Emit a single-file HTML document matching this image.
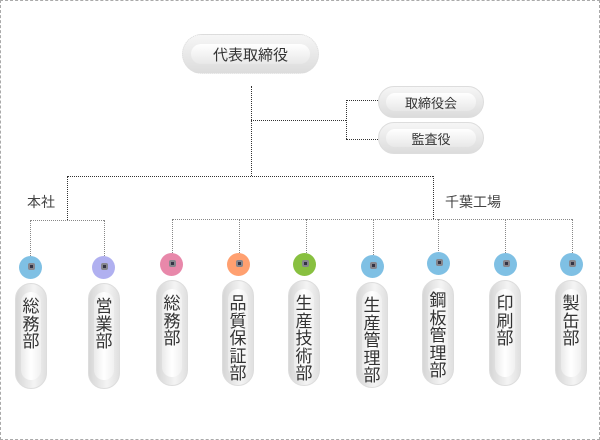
<!DOCTYPE html>
<html><head><meta charset="utf-8"><style>
body{margin:0;width:600px;height:440px;position:relative;background:#fff;font-family:"Liberation Sans","Noto Sans CJK JP",sans-serif;color:#444;overflow:hidden}
.frame{position:absolute;left:0;top:0;width:598px;height:438px;border:1px dashed #aaa}
.h{position:absolute;border-top:1px dotted #333;height:0}
.v{position:absolute;border-left:1px dotted #333;width:0}
.hg{position:absolute;border-top:1px dotted #888;height:0}
.vg{position:absolute;border-left:1px dotted #888;width:0}
.pill{position:absolute;box-sizing:border-box;border:1px solid #ddd;background:linear-gradient(to bottom,#f6f6f6,#dcdcdc);}
.pill .in{position:absolute;background:linear-gradient(to bottom,#fff,#e8e8e8);display:flex;align-items:center;justify-content:center}
.vp{position:absolute;box-sizing:border-box;width:32px;height:106px;border:1px solid #ddd;border-radius:16px;background:linear-gradient(to right,#d6d6d6,#f4f4f4 60%,#e0e0e0)}
.vp .in{position:absolute;left:5px;right:5px;top:8px;bottom:8px;border-radius:11px;background:linear-gradient(to right,#eaeaea,#fff 50%,#f0f0f0)}
.vp .t{position:absolute;left:0;right:0;top:14px;text-align:center;font-size:17px;line-height:17.5px;color:#333}
.c{position:absolute;width:23px;height:23px;border-radius:50%}
.c:after{content:"";position:absolute;left:9px;top:7px;width:3px;height:3px;background:#334;border:2px solid rgba(190,190,190,.6);border-radius:2px}
.lbl{position:absolute;font-size:14px;color:#444}
</style></head><body>
<div class="frame"></div>
<div class="pill" style="left:182px;top:34px;width:137px;height:40px;border-radius:20px;border-style:dotted"><div class="in" style="left:8px;right:8px;top:9px;bottom:9px;border-radius:11px;font-size:15px;color:#333">代表取締役</div></div>
<div class="pill" style="left:378px;top:86px;width:106px;height:32px;border-radius:16px"><div class="in" style="left:7px;right:7px;top:6px;bottom:6px;border-radius:10px;font-size:13px;color:#333">取締役会</div></div>
<div class="pill" style="left:378px;top:122px;width:106px;height:32px;border-radius:16px"><div class="in" style="left:7px;right:7px;top:6px;bottom:6px;border-radius:10px;font-size:13px;color:#333">監査役</div></div>
<div class="v" style="left:251px;top:86px;height:90px"></div>
<div class="h" style="left:251px;top:120px;width:95px"></div>
<div class="v" style="left:346px;top:100px;height:39px"></div>
<div class="h" style="left:346px;top:100px;width:32px"></div>
<div class="h" style="left:346px;top:139px;width:32px"></div>
<div class="h" style="left:67px;top:176px;width:366px"></div>
<div class="v" style="left:67px;top:176px;height:44px"></div>
<div class="v" style="left:433px;top:176px;height:43px"></div>
<div class="hg" style="left:30px;top:220px;width:74px"></div>
<div class="hg" style="left:172px;top:219px;width:400px"></div>
<div class="vg" style="left:30px;top:220px;height:44px"></div>
<div class="vg" style="left:104px;top:220px;height:44px"></div>
<div class="vg" style="left:172px;top:219px;height:42px"></div>
<div class="vg" style="left:239px;top:219px;height:42px"></div>
<div class="vg" style="left:306px;top:219px;height:42px"></div>
<div class="vg" style="left:373px;top:219px;height:44px"></div>
<div class="vg" style="left:438px;top:219px;height:42px"></div>
<div class="vg" style="left:505px;top:219px;height:42px"></div>
<div class="vg" style="left:572px;top:219px;height:42px"></div>
<div class="lbl" style="left:27px;top:192px">本社</div>
<div class="lbl" style="left:445px;top:192px">千葉工場</div>
<div class="c" style="left:19px;top:256px;background:#7fc0e4"></div>
<div class="c" style="left:92px;top:256px;background:#b0b0f0"></div>
<div class="c" style="left:160px;top:253px;background:#e888aa"></div>
<div class="c" style="left:227px;top:253px;background:#ffa070"></div>
<div class="c" style="left:293px;top:253px;background:#88c040"></div>
<div class="c" style="left:361px;top:255px;background:#7fc0e4"></div>
<div class="c" style="left:427px;top:252px;background:#7fc0e4"></div>
<div class="c" style="left:494px;top:253px;background:#7fc0e4"></div>
<div class="c" style="left:560px;top:253px;background:#7fc0e4"></div>
<div class="vp" style="left:15px;top:283px"><div class="in"></div><div class="t">総<br>務<br>部</div></div>
<div class="vp" style="left:88px;top:283px"><div class="in"></div><div class="t">営<br>業<br>部</div></div>
<div class="vp" style="left:156px;top:280px"><div class="in"></div><div class="t">総<br>務<br>部</div></div>
<div class="vp" style="left:222px;top:280px"><div class="in"></div><div class="t">品<br>質<br>保<br>証<br>部</div></div>
<div class="vp" style="left:288px;top:280px"><div class="in"></div><div class="t">生<br>産<br>技<br>術<br>部</div></div>
<div class="vp" style="left:356px;top:282px"><div class="in"></div><div class="t">生<br>産<br>管<br>理<br>部</div></div>
<div class="vp" style="left:422px;top:279px"><div class="in"></div><div class="t" style="top:12px">鋼<br>板<br>管<br>理<br>部</div></div>
<div class="vp" style="left:489px;top:280px"><div class="in"></div><div class="t">印<br>刷<br>部</div></div>
<div class="vp" style="left:555px;top:280px"><div class="in"></div><div class="t">製<br>缶<br>部</div></div>
</body></html>
